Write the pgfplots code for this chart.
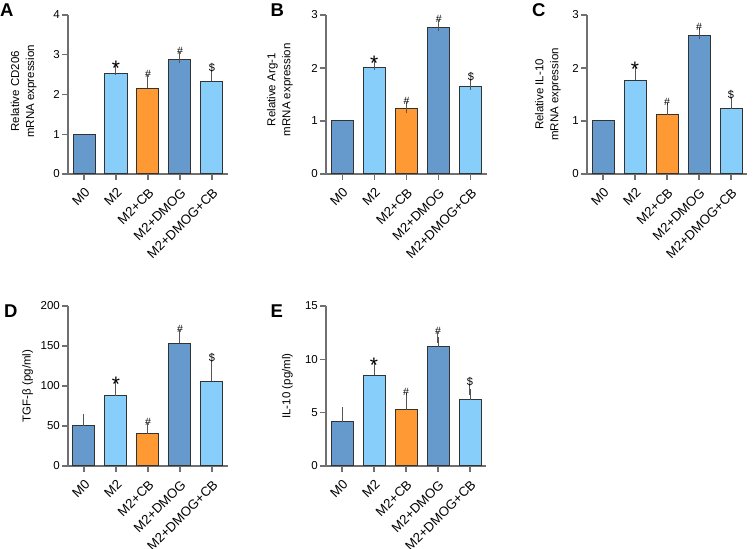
\documentclass[border=0pt]{standalone}
\usepackage{fontspec}
\setmainfont{Liberation Sans}
\usepackage{pgfplots}
\pgfplotsset{compat=1.18}
\definecolor{mblue}{HTML}{6699CC}
\definecolor{lblue}{HTML}{87CEFA}
\definecolor{orng}{HTML}{FF9933}
\definecolor{axgray}{HTML}{707070}
\definecolor{bdgray}{HTML}{333333}
\definecolor{ergray}{HTML}{555555}
\pgfplotsset{
  panel/.style={
    scale only axis, width=160pt, height=159pt,
    xmin=-0.5, xmax=4.5, ymin=0,
    axis x line=bottom, axis y line=left,
    axis line style={-, draw=axgray, line width=1.1pt},
    xtick={0,1,2,3,4},
    xticklabels={M0,M2,M2+CB,M2+DMOG,M2+DMOG+CB},
    y tick label style={inner sep=2pt, font=\fontsize{11.5}{12}\selectfont},
    x tick label style={rotate=45, anchor=north east, inner sep=0pt, font=\fontsize{13.2}{13}\selectfont},
    xticklabel shift=7pt,
    tick align=outside, major tick length=6pt,
    tick style={draw=axgray, line width=1.1pt},
    /pgf/number format/assume math mode=true,
    ylabel style={anchor=south, inner sep=0pt, align=center,
      font=\fontsize{11.5}{15}\selectfont},
    clip=false,
  },
  br/.style={ybar, bar width=22pt, bar shift=0pt, draw=bdgray, line width=1pt, fill=#1},
  eb/.style={error bars/.cd, y dir=plus, y explicit,
    error bar style={draw=ergray, line width=1pt},
    error mark=-, error mark options={draw=ergray, line width=1pt, mark size=5.5pt}},
}
\newcommand{\st}[2]{\node[anchor=base, yshift=-5.3pt, inner sep=0pt, font=\fontsize{21}{21}\selectfont] at (axis cs:#1,#2) {*};}
\newcommand{\hs}[2]{\node[anchor=base, yshift=3pt, inner sep=0pt, font=\fontsize{10.5}{11}\selectfont] at (axis cs:#1,#2) {\#};}
\newcommand{\dl}[2]{\node[anchor=base, yshift=4pt, inner sep=0pt, font=\fontsize{11}{11}\selectfont] at (axis cs:#1,#2) {\$};}
\begin{document}
\begin{tikzpicture}
\useasboundingbox (0,0) rectangle (753pt,549pt);
% Panel A
\begin{axis}[panel, at={(68pt,375pt)}, anchor=south west, ymax=4, ytick={0,1,2,3,4},
  ylabel={Relative CD206\\mRNA expression},
  ylabel style={at={(axis description cs:-0.196,0.52)}}]
\addplot[br=mblue] coordinates {(0,1.00)};
\addplot[br=lblue, eb] coordinates {(1,2.52) +- (0,0.10)};
\addplot[br=orng, eb] coordinates {(2,2.16) +- (0,0.20)};
\addplot[br=mblue, eb] coordinates {(3,2.89) +- (0,0.04)};
\addplot[br=lblue, eb] coordinates {(4,2.33) +- (0,0.14)};
\st{1}{2.62}\hs{2}{2.36}\hs{3}{2.93}\dl{4}{2.47}
\end{axis}
% Panel B
\begin{axis}[panel, at={(326pt,375pt)}, anchor=south west, width=161pt, ymax=3, ytick={0,1,2,3},
  ylabel={Relative Arg-1\\mRNA expression},
  ylabel style={at={(axis description cs:-0.205,0.53)}}]
\addplot[br=mblue] coordinates {(0,1.00)};
\addplot[br=lblue, eb] coordinates {(1,2.01) +- (0,0.05)};
\addplot[br=orng, eb] coordinates {(2,1.23) +- (0,0.03)};
\addplot[br=mblue, eb] coordinates {(3,2.76) +- (0,0.04)};
\addplot[br=lblue, eb] coordinates {(4,1.65) +- (0,0.04)};
\st{1}{2.06}\hs{2}{1.26}\hs{3}{2.80}\dl{4}{1.69}
\end{axis}
% Panel C
\begin{axis}[panel, at={(587pt,375pt)}, anchor=south west, ymax=3, ytick={0,1,2,3},
  ylabel={Relative IL-10\\mRNA expression},
  ylabel style={at={(axis description cs:-0.1625,0.5)}}]
\addplot[br=mblue] coordinates {(0,1.00)};
\addplot[br=lblue, eb] coordinates {(1,1.77) +- (0,0.17)};
\addplot[br=orng, eb] coordinates {(2,1.12) +- (0,0.12)};
\addplot[br=mblue, eb] coordinates {(3,2.62) +- (0,0.03)};
\addplot[br=lblue, eb] coordinates {(4,1.23) +- (0,0.12)};
\st{1}{1.94}\hs{2}{1.24}\hs{3}{2.65}\dl{4}{1.35}
\end{axis}
% Panel D
\begin{axis}[panel, at={(68pt,83pt)}, anchor=south west, height=160pt, ymax=200, ytick={0,50,100,150,200},
  ylabel={TGF-β (pg/ml)},
  ylabel style={at={(axis description cs:-0.217,0.5)}}]
\addplot[br=mblue, eb] coordinates {(0,50.0) +- (0,7.6)};
\addplot[br=lblue, eb] coordinates {(1,87.7) +- (0,12.5)};
\addplot[br=orng, eb] coordinates {(2,40.6) +- (0,6.2)};
\addplot[br=mblue, eb] coordinates {(3,153.7) +- (0,9.6)};
\addplot[br=lblue, eb] coordinates {(4,105.7) +- (0,19.5)};
\st{1}{100.2}\hs{2}{46.8}\hs{3}{163.3}\dl{4}{125.2}
\end{axis}
% Panel E
\begin{axis}[panel, at={(326pt,83pt)}, anchor=south west, height=160pt, ymax=15, ytick={0,5,10,15},
  ylabel={IL-10 (pg/ml)},
  ylabel style={at={(axis description cs:-0.206,0.5)}}]
\addplot[br=mblue, eb] coordinates {(0,4.13) +- (0,0.87)};
\addplot[br=lblue, eb] coordinates {(1,8.52) +- (0,0.78)};
\addplot[br=orng, eb] coordinates {(2,5.26) +- (0,1.07)};
\addplot[br=mblue, eb] coordinates {(3,11.2) +- (0,0.86)};
\addplot[br=lblue, eb] coordinates {(4,6.23) +- (0,0.97)};
\st{1}{9.30}\hs{2}{6.33}\hs{3}{12.06}\dl{4}{7.20}
\end{axis}
% panel letters
\node[anchor=base west, inner sep=0pt, font=\fontsize{18.5}{19}\selectfont\bfseries] at (0pt,532.5pt) {A};
\node[anchor=base west, inner sep=0pt, font=\fontsize{18.5}{19}\selectfont\bfseries] at (270.5pt,532.5pt) {B};
\node[anchor=base west, inner sep=0pt, font=\fontsize{18.5}{19}\selectfont\bfseries] at (532pt,532.5pt) {C};
\node[anchor=base west, inner sep=0pt, font=\fontsize{18.5}{19}\selectfont\bfseries] at (4pt,231.5pt) {D};
\node[anchor=base west, inner sep=0pt, font=\fontsize{18.5}{19}\selectfont\bfseries] at (270.5pt,231.5pt) {E};
\end{tikzpicture}
\end{document}
